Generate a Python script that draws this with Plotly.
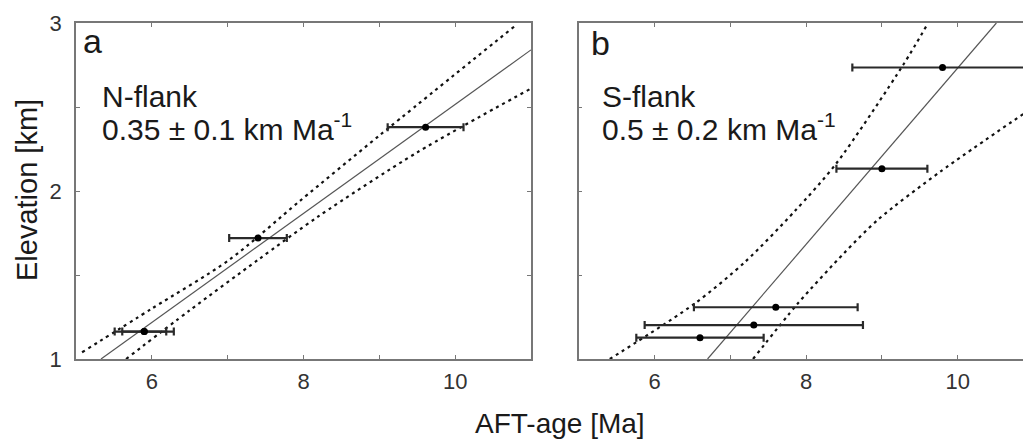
import plotly.graph_objects as go

# ---------------- data ----------------
# Panel a (N-flank)
a_age = [5.90, 5.90, 7.40, 9.61]
a_elev = [1.163, 1.163, 1.72, 2.38]
a_err = [0.39, 0.29, 0.38, 0.50]
a_fit_x = [5.33, 11.0]
a_fit_y = [1.0, 2.84]
a_up_x = [5.08, 6.00, 7.02, 7.95, 9.00, 10.81]
a_up_y = [1.04, 1.30, 1.59, 1.94, 2.33, 2.99]
a_lo_x = [5.66, 6.50, 7.40, 8.20, 9.50, 11.0]
a_lo_y = [1.00, 1.29, 1.59, 1.85, 2.23, 2.61]

# Panel b (S-flank)
b_age = [9.80, 9.00, 7.60, 7.31, 6.60]
b_elev = [2.735, 2.133, 1.308, 1.202, 1.127]
b_err = [1.19, 0.60, 1.08, 1.44, 0.84]
b_fit_x = [6.70, 10.51]
b_fit_y = [1.0, 3.0]
b_up_x = [5.41, 6.53, 7.20, 7.85, 8.40, 9.28, 9.61]
b_up_y = [1.00, 1.33, 1.58, 1.88, 2.165, 2.75, 3.0]
b_lo_x = [7.30, 7.89, 8.50, 8.95, 9.77, 10.87]
b_lo_y = [1.00, 1.33, 1.63, 1.83, 2.115, 2.46]

x_ticks = [6, 8, 10]
x_minor = [5, 7, 9, 11]
y_ticks = [1, 2, 3]
y_minor = [1.5, 2.5]

FONT = "Liberation Sans, Arial, sans-serif"
W, H = 1023, 441
ML, MR, MT, MB = 76, 0, 23, 82
PW, PH = W - ML - MR, H - MT - MB


def px(x):
    return (x - ML) / PW


def py(y):
    return (H - MB - y) / PH


fig = go.Figure()

for (xs, ys, xa, ya) in [
    (a_fit_x, a_fit_y, "x", "y"),
    (b_fit_x, b_fit_y, "x2", "y2"),
]:
    fig.add_trace(go.Scatter(x=xs, y=ys, mode="lines", xaxis=xa, yaxis=ya,
                             line=dict(color="#555555", width=1.2),
                             showlegend=False, hoverinfo="skip"))

for (xs, ys, xa, ya) in [
    (a_up_x, a_up_y, "x", "y"), (a_lo_x, a_lo_y, "x", "y"),
    (b_up_x, b_up_y, "x2", "y2"), (b_lo_x, b_lo_y, "x2", "y2"),
]:
    fig.add_trace(go.Scatter(x=xs, y=ys, mode="lines", xaxis=xa, yaxis=ya,
                             line=dict(color="#111111", width=2.2, dash="3px,4px",
                                       shape="spline", smoothing=0.8),
                             showlegend=False, hoverinfo="skip"))

for (xs, ys, es, xa, ya) in [
    (a_age, a_elev, a_err, "x", "y"),
    (b_age, b_elev, b_err, "x2", "y2"),
]:
    fig.add_trace(go.Scatter(x=xs, y=ys, mode="markers", xaxis=xa, yaxis=ya,
                             marker=dict(color="#000000", size=7),
                             error_x=dict(type="data", array=es, visible=True,
                                          color="#2a2a2a", thickness=2.2, width=4),
                             showlegend=False, hoverinfo="skip"))

axis_common = dict(
    ticks="inside", ticklen=4, tickwidth=1, tickcolor="#777777",
    showline=True, linecolor="#777777", linewidth=1.5,
    showgrid=False, zeroline=False,
    tickfont=dict(family=FONT, size=22, color="#333333"),
)
xminor = dict(tickvals=x_minor, ticks="inside", ticklen=4, tickcolor="#777777",
              showgrid=False)
yminor = dict(tickvals=y_minor, ticks="inside", ticklen=4, tickcolor="#777777",
              showgrid=False)

fig.update_layout(
    width=W, height=H,
    margin=dict(l=ML, r=MR, t=MT, b=MB),
    paper_bgcolor="white", plot_bgcolor="white",
    xaxis=dict(domain=[0, px(531)], range=[5, 11], tickvals=x_ticks,
               minor=xminor, mirror="ticks", anchor="y",
               ticklabelstandoff=2, **axis_common),
    yaxis=dict(domain=[0, 1], range=[1, 3], tickvals=y_ticks,
               minor=yminor, mirror="ticks", anchor="x",
               ticklabelstandoff=8, **axis_common),
    xaxis2=dict(domain=[px(578.7), 1], range=[5, 5 + (W - 578.7) / 75.8],
                tickvals=x_ticks, minor=xminor, mirror="ticks",
                anchor="y2", ticklabelstandoff=2, **axis_common),
    yaxis2=dict(domain=[0, 1], range=[1, 3], tickvals=y_ticks, minor=yminor,
                showticklabels=False, mirror=False, anchor="x2",
                **axis_common),
)

TXT = dict(family=FONT, color="#1a1a1a")
ann = [
    dict(text="a", x=px(81), y=py(41), size=34),
    dict(text="N-flank", x=px(100), y=py(96), size=30),
    dict(text="0.35 ± 0.1 km Ma<sup>-1</sup>", x=px(100), y=py(127), size=30),
    dict(text="b", x=px(589), y=py(43), size=34),
    dict(text="S-flank", x=px(600), y=py(96), size=30),
    dict(text="0.5 ± 0.2 km Ma<sup>-1</sup>", x=px(600), y=py(127), size=30),
]
for a in ann:
    fig.add_annotation(text=a["text"], x=a["x"], y=a["y"], xref="paper",
                       yref="paper", xanchor="left", yanchor="middle",
                       showarrow=False, font=dict(size=a["size"], **TXT))

fig.add_annotation(text="Elevation [km]", x=px(27), y=py(190), xref="paper",
                   yref="paper", xanchor="center", yanchor="middle",
                   textangle=-90, showarrow=False, font=dict(size=29, **TXT))
fig.add_annotation(text="AFT-age [Ma]", x=px(560), y=py(423), xref="paper",
                   yref="paper", xanchor="center", yanchor="middle",
                   showarrow=False, font=dict(size=28, **TXT))

fig.write_html("out.html")
